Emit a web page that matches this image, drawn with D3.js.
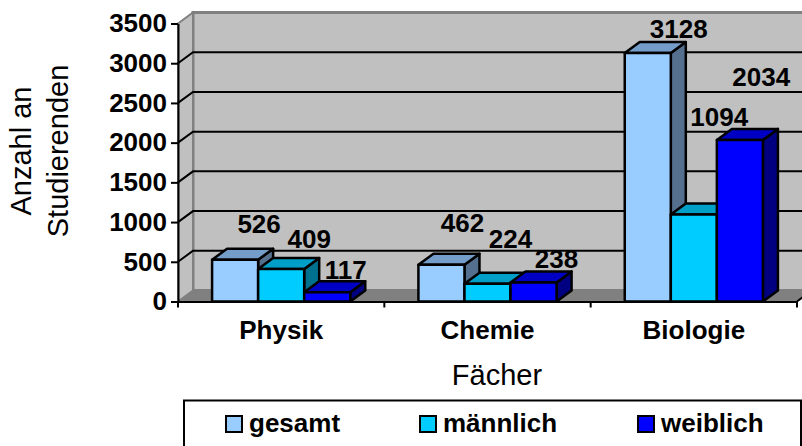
<!DOCTYPE html>
<html>
<head>
<meta charset="utf-8">
<script src="https://cdn.jsdelivr.net/npm/d3@7"></script>
<style>
  html, body { margin: 0; padding: 0; background: #fff; overflow: hidden; }
  text { font-family: "Liberation Sans", Arial, sans-serif; fill: #000; }
</style>
</head>
<body>
<div id="chart"></div>
<script>
const categories = ["Physik", "Chemie", "Biologie"];
const seriesNames = ["gesamt", "männlich", "weiblich"];
const gesamt = [526, 462, 3128];
const maennlich = [409, 224, 1094];
const weiblich = [117, 238, 2034];
const yTicks = [0, 500, 1000, 1500, 2000, 2500, 3000, 3500];

const seriesValues = [gesamt, maennlich, weiblich];
const faceColors = [
  { front: "#99ccff", top: "#749dca", side: "#55708f" },
  { front: "#00ccff", top: "#009fc8", side: "#00708f" },
  { front: "#0000ff", top: "#0000c4", side: "#000080" }
];
// label offset from the bar's top-front centre, per category and series
const labelNudge = [
  [[24, -27], [28, -21], [18.5, -13.2]],
  [[21, -33.1], [23, -36], [23, -14.9]],
  [[31, -14.7], [25.4, -88.5], [21.4, -53.9]]
];

const width = 802, height = 446;
const depthX = 15, depthY = 11;

const svg = d3.select("#chart").append("svg")
  .attr("width", width)
  .attr("height", height)
  .style("display", "block");

const y = d3.scaleLinear().domain([0, 3500]).range([301.5, 23.5]);
const x0 = d3.scaleBand().domain(categories).range([178, 797]);
const x1 = d3.scaleBand().domain(seriesNames)
  .range([0, x0.bandwidth()])
  .paddingInner(0)
  .paddingOuter(0.74);

const left = x0.range()[0], right = x0.range()[1];

// walls and floor
const wallPoly = pts => pts.map(p => p.join(",")).join(" ");
svg.append("polygon")
  .attr("points", wallPoly([[left + depthX, y(3500) - depthY], [right + depthX, y(3500) - depthY], [right + depthX, y(0) - depthY], [left + depthX, y(0) - depthY]]))
  .attr("fill", "#c0c0c0")
  .attr("stroke", "#808080")
  .attr("stroke-width", 3);
svg.append("polygon")
  .attr("points", wallPoly([[left, y(3500)], [left + depthX, y(3500) - depthY], [left + depthX, y(0) - depthY], [left, y(0)]]))
  .attr("fill", "#c0c0c0")
  .attr("stroke", "#808080")
  .attr("stroke-width", 2);
svg.append("polygon")
  .attr("points", wallPoly([[left, y(0)], [left + depthX, y(0) - depthY], [right + depthX, y(0) - depthY], [right, y(0)]]))
  .attr("fill", "#808080")
  .attr("stroke", "#808080");

// gridlines on the walls
const grid = svg.append("g").attr("fill", "none").attr("stroke", "#000").attr("stroke-width", 2);
yTicks.filter(d => d > 0 && d < 3500).forEach(d => {
  grid.append("polyline")
    .attr("points", wallPoly([[left, y(d)], [left + depthX, y(d) - depthY], [right + depthX, y(d) - depthY]]));
});
// floor's right edge
grid.append("line")
  .attr("x1", right).attr("y1", y(0))
  .attr("x2", right + depthX).attr("y2", y(0) - depthY);

// axes
const yAxis = d3.axisLeft(y).tickValues(yTicks).tickSize(7).tickPadding(4).tickSizeOuter(0).tickFormat(d3.format("d"));
const gy = svg.append("g").attr("transform", `translate(${left},0)`).call(yAxis);
gy.selectAll("path, line").attr("stroke", "#000").attr("stroke-width", 2);
gy.selectAll("text").style("font-size", "26px").style("font-weight", "bold");

const xAxis = d3.axisBottom(x0).tickSize(0).tickPadding(19);
const gx = svg.append("g").attr("transform", `translate(0,${y(0)})`).call(xAxis);
gx.selectAll("path").attr("stroke", "#000").attr("stroke-width", 2);
gx.selectAll("text").style("font-size", "26px").style("font-weight", "bold");
gx.selectAll("line.sep")
  .data([left, ...categories.map(c => x0(c) + x0.bandwidth())])
  .join("line")
  .attr("class", "sep")
  .attr("x1", d => d).attr("x2", d => d)
  .attr("y1", 0).attr("y2", 6)
  .attr("stroke", "#000").attr("stroke-width", 2);

// bars, painted left to right so the nearer bar covers the neighbour's side
const bars = svg.append("g").attr("stroke", "#000").attr("stroke-width", 2.5).attr("stroke-linejoin", "round");
categories.forEach((cat, c) => {
  seriesNames.forEach((name, s) => {
    const v = seriesValues[s][c];
    const xa = x0(cat) + x1(name), xb = xa + x1.bandwidth();
    const ya = y(v), yb = y(0);
    const g = bars.append("g");
    g.append("polygon")
      .attr("points", wallPoly([[xb, ya], [xb + depthX, ya - depthY], [xb + depthX, yb - depthY], [xb, yb]]))
      .attr("fill", faceColors[s].side);
    g.append("polygon")
      .attr("points", wallPoly([[xa, ya], [xa + depthX, ya - depthY], [xb + depthX, ya - depthY], [xb, ya]]))
      .attr("fill", faceColors[s].top);
    g.append("rect")
      .attr("x", xa).attr("y", ya)
      .attr("width", x1.bandwidth()).attr("height", yb - ya)
      .attr("fill", faceColors[s].front);
  });
});

// data labels
categories.forEach((cat, c) => {
  seriesNames.forEach((name, s) => {
    const v = seriesValues[s][c];
    const n = labelNudge[c][s];
    svg.append("text")
      .attr("x", x0(cat) + x1(name) + x1.bandwidth() / 2 + n[0])
      .attr("y", y(v) + n[1])
      .attr("text-anchor", "middle")
      .style("font-size", "26px").style("font-weight", "bold")
      .text(v);
  });
});

// axis titles
svg.append("text").attr("x", 497).attr("y", 385).attr("text-anchor", "middle")
  .style("font-size", "29px").text("Fächer");
const yTitle = svg.append("text").attr("transform", "translate(31,151) rotate(-90)").attr("text-anchor", "middle")
  .style("font-size", "29px");
yTitle.append("tspan").attr("x", 0).attr("y", 0).text("Anzahl an");
yTitle.append("tspan").attr("x", 0).attr("y", 37).text("Studierenden");

// legend, its lower edge runs off the page
svg.append("rect").attr("x", 184).attr("y", 400.5).attr("width", 617).attr("height", 60)
  .attr("fill", "#fff").attr("stroke", "#000").attr("stroke-width", 2);
const legendX = d3.scaleOrdinal().domain(seriesNames).range([226, 420, 638]);
seriesNames.forEach((name, s) => {
  const lx = legendX(name);
  svg.append("rect").attr("x", lx).attr("y", 416).attr("width", 16).attr("height", 16)
    .attr("fill", faceColors[s].front).attr("stroke", "#000").attr("stroke-width", 2);
  svg.append("text").attr("x", lx + 23).attr("y", 432)
    .style("font-size", "26px").style("font-weight", "bold").text(name);
});
</script>
</body>
</html>
